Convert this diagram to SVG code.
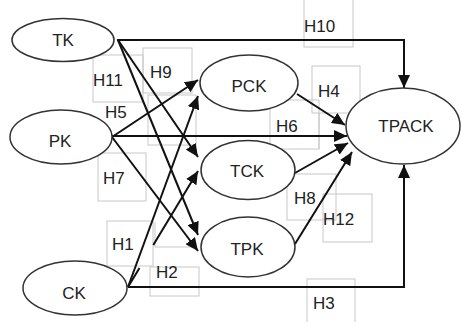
<svg xmlns="http://www.w3.org/2000/svg" width="462" height="322" viewBox="0 0 462 322">
  <style>
    .frame { fill: none; stroke: #c8c8c8; stroke-width: 1; }
    .edge { fill: none; stroke: #111; stroke-width: 2; }
    .node ellipse { fill: #fff; stroke: #333; stroke-width: 1.5; }
    .node text { font-family: "Liberation Sans", Arial, sans-serif; font-size: 17px; fill: #222; text-anchor: middle; }
    .lbl { font-family: "Liberation Sans", Arial, sans-serif; font-size: 17px; fill: #222; }
  </style>
  <defs>
    <marker id="arrow" markerUnits="userSpaceOnUse" markerWidth="14" markerHeight="12" refX="13" refY="6" orient="auto">
      <path d="M0,0 L13,6 L0,12 Z" fill="#111"/>
    </marker>
  </defs>
  <rect width="462" height="322" fill="#fff"/>

  <!-- frames around the hypothesis labels -->
  <g id="label-frames">
    <rect class="frame" x="304" y="-1" width="49" height="48"/>
    <rect class="frame" x="93" y="55" width="50" height="47"/>
    <rect class="frame" x="143" y="48" width="49" height="45"/>
    <rect class="frame" x="148" y="95" width="48" height="50"/>
    <rect class="frame" x="98" y="153" width="48" height="48"/>
    <rect class="frame" x="107" y="221" width="46" height="45"/>
    <path class="frame" d="M155,222 V247 H197"/>
    <rect class="frame" x="150" y="267" width="49" height="29"/>
    <rect class="frame" x="307" y="279" width="48" height="50"/>
    <rect class="frame" x="323" y="194" width="49" height="48"/>
    <rect class="frame" x="287" y="174" width="49" height="46"/>
    <rect class="frame" x="270" y="100" width="49" height="49"/>
    <rect class="frame" x="312" y="66" width="48" height="47"/>
    <path class="frame" d="M319,113 V149"/>
  </g>

  <!-- connectors -->
  <g id="connectors">
    <path class="edge" d="M117,40 H404 V88" marker-end="url(#arrow)"/>
    <path class="edge" d="M118,40 L198,157" marker-end="url(#arrow)"/>
    <path class="edge" d="M118,40 L198,235" marker-end="url(#arrow)"/>
    <path class="edge" d="M112,137 L198,80" marker-end="url(#arrow)"/>
    <path class="edge" d="M112,136 H347" marker-end="url(#arrow)"/>
    <path class="edge" d="M112,137 L198,251" marker-end="url(#arrow)"/>
    <path class="edge" d="M128,287 L198,96" marker-end="url(#arrow)"/>
    <path class="edge" d="M128,287 L139.5,268"/>
    <path class="edge" d="M153.3,245 L198,171" marker-end="url(#arrow)"/>
    <path class="edge" d="M128,287 H404 V165" marker-end="url(#arrow)"/>
    <path class="edge" d="M297,94 L345,125" marker-end="url(#arrow)"/>
    <path class="edge" d="M295,173 L348,143" marker-end="url(#arrow)"/>
    <path class="edge" d="M295,244 L352,152" marker-end="url(#arrow)"/>
  </g>

  <!-- constructs -->
  <g id="node-TK" class="node">
    <ellipse cx="63" cy="40" rx="51" ry="21.5"/>
    <text x="63" y="46">TK</text>
  </g>
  <g id="node-PK" class="node">
    <ellipse cx="61" cy="137" rx="51" ry="27"/>
    <text x="60" y="147">PK</text>
  </g>
  <g id="node-CK" class="node">
    <ellipse cx="75" cy="288" rx="52" ry="27"/>
    <text x="74" y="299">CK</text>
  </g>
  <g id="node-PCK" class="node">
    <ellipse cx="249" cy="83" rx="49" ry="28"/>
    <text x="249" y="92">PCK</text>
  </g>
  <g id="node-TCK" class="node">
    <ellipse cx="248" cy="170" rx="47" ry="29.5"/>
    <text x="247" y="177">TCK</text>
  </g>
  <g id="node-TPK" class="node">
    <ellipse cx="248" cy="247" rx="47" ry="30"/>
    <text x="247" y="255">TPK</text>
  </g>
  <g id="node-TPACK" class="node">
    <ellipse cx="403" cy="126" rx="57" ry="38"/>
    <text x="406" y="132">TPACK</text>
  </g>

  <!-- hypothesis labels -->
  <g id="labels">
    <text class="lbl" x="304" y="32">H10</text>
    <text class="lbl" x="93" y="86">H11</text>
    <text class="lbl" x="150" y="78">H9</text>
    <text class="lbl" x="105" y="118">H5</text>
    <text class="lbl" x="276" y="132">H6</text>
    <text class="lbl" x="318" y="97">H4</text>
    <text class="lbl" x="103" y="184">H7</text>
    <text class="lbl" x="112" y="250">H1</text>
    <text class="lbl" x="156" y="278">H2</text>
    <text class="lbl" x="294" y="204">H8</text>
    <text class="lbl" x="323" y="225">H12</text>
    <text class="lbl" x="313" y="309">H3</text>
  </g>
</svg>
